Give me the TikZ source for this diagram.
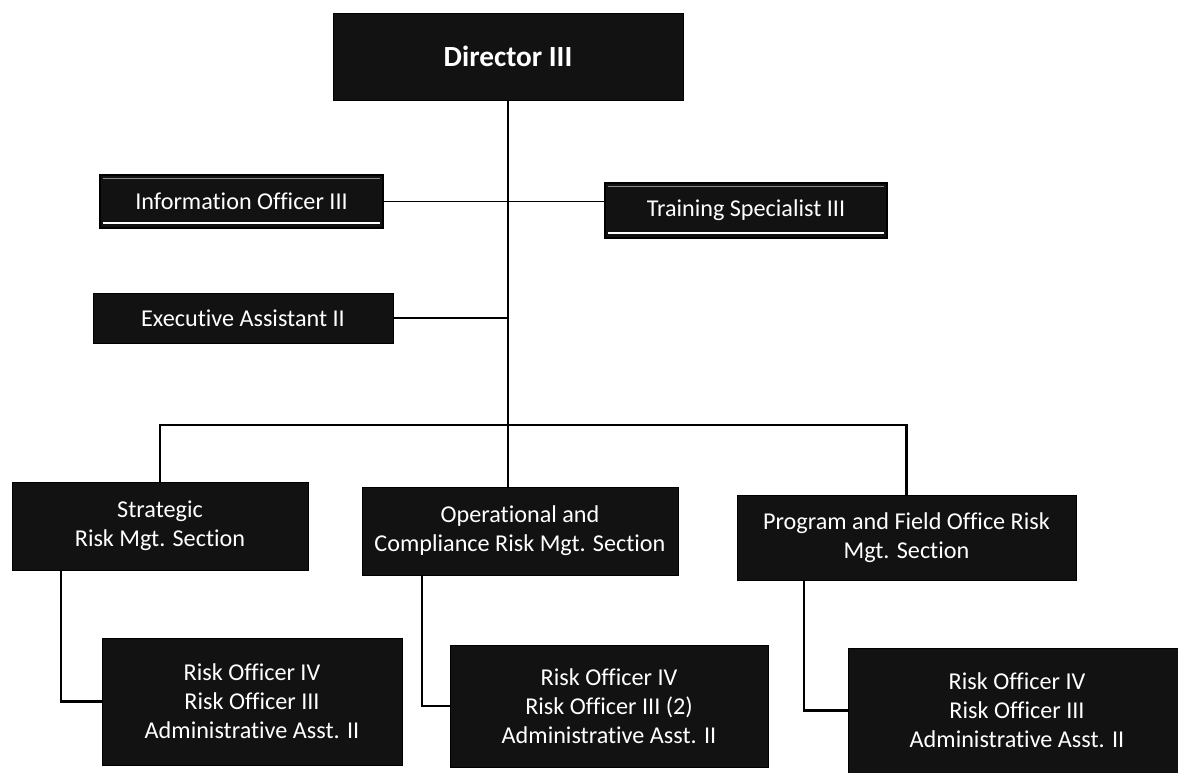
\documentclass[tikz,border=0pt]{standalone}
\usepackage{fontspec}
\setmainfont{Carlito}[Ligatures=NoCommon]
\begin{document}
\begin{tikzpicture}[box/.style={fill=black!93, draw=black, text=white, align=center, inner sep=0pt, font=\fontsize{17.2}{20.5}\selectfont},
  stripbox/.style={box, line width=1pt, path picture={\draw[white, line width=1.6pt] ([xshift=2pt,yshift=3.5pt]path picture bounding box.south west) -- ([xshift=-2pt,yshift=3.5pt]path picture bounding box.south east); \draw[black!45, line width=0.5pt] ([xshift=2pt,yshift=-2.5pt]path picture bounding box.north west) -- ([xshift=-2pt,yshift=-2.5pt]path picture bounding box.north east);}},
  link/.style={line width=1.5pt}]
\useasboundingbox (0,0) rectangle (29.45,19.325);
\node[box, minimum width=8.75cm, minimum height=2.175cm, font=\fontsize{20.8}{24}\selectfont\bfseries] at (12.7,17.9125) (dir) {Director III};
\node[stripbox, minimum width=7.075cm, minimum height=1.325cm] at (6.0375,14.2875) (info) {Information Officer III};
\node[stripbox, minimum width=7.05cm, minimum height=1.375cm] at (18.65,14.0625) (train) {Training Specialist III};
\node[box, minimum width=7.5cm, minimum height=1.25cm] at (6.075,11.375) (exec) {Executive Assistant II};
\node[box, minimum width=7.4cm, minimum height=2.2cm] at (4.0,6.175) (strat) {Strategic\\Risk Mgt. Section};
\node[box, minimum width=7.9cm, minimum height=2.2cm] at (13.0,6.05) (oper) {Operational and\\Compliance Risk Mgt. Section};
\node[box, minimum width=8.475cm, minimum height=2.125cm] at (22.6625,5.8875) (prog) {Program and Field Office Risk\\Mgt. Section};
\node[box, minimum width=7.5cm, minimum height=3.175cm] at (6.3,1.7875) (staffa) {Risk Officer IV\\Risk Officer III\\Administrative Asst. II};
\node[box, minimum width=7.95cm, minimum height=3.05cm] at (15.225,1.675) (staffb) {Risk Officer IV\\Risk Officer III (2)\\Administrative Asst. II};
\node[box, minimum width=8.45cm, minimum height=3.125cm] at (25.425,1.5625) (staffc) {Risk Officer IV\\Risk Officer III\\Administrative Asst. II};
\coordinate (bus) at (12.7,8.7);
\draw[link] (dir.south) -- (bus);
\draw[link, line width=1.2pt] (info.east) -- (info.east -| train.west);
\draw[link] (exec.east) -- (exec.east -| dir.south);
\draw[link] (strat.north) -- (strat.north |- bus) -- (prog.north |- bus) -- (prog.north);
\draw[link] (bus) -- (bus |- oper.north);
\draw[link] ([xshift=1.225cm]strat.south west) |- (staffa.west);
\draw[link] ([xshift=1.5cm]oper.south west) |- (staffb.west);
\draw[link] ([xshift=1.675cm]prog.south west) |- (staffc.west);
\end{tikzpicture}
\end{document}
